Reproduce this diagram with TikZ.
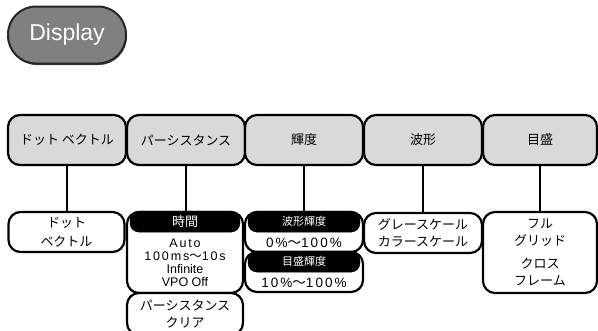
\documentclass[tikz,border=0pt]{standalone}
\usepackage{fontspec}
\setmainfont{Liberation Sans}
\newfontfamily\jp{Noto Sans CJK JP}
\newfontfamily\spaced[LetterSpace=15]{Liberation Sans}
\usepackage{tikz}
\usetikzlibrary{positioning,calc,shadows}

\begin{document}
\begin{tikzpicture}[x=1pt,y=-1pt,
  dispbtn/.style={draw=black!85,line width=2pt,fill=black!50,rounded corners=28pt,
    minimum width=118pt,minimum height=57pt,text=white,font=\fontsize{23}{23}\selectfont,
    drop shadow={shadow xshift=0.8pt,shadow yshift=-1.5pt,fill=black!70,opacity=1}},
  topbox/.style={draw,line width=2.2pt,rounded corners=12pt,fill=black!15,
    minimum width=118pt,minimum height=50pt,font=\jp\fontsize{13}{15}\selectfont},
  botbox/.style={draw,line width=2.2pt,rounded corners=12pt,fill=white,
    minimum width=116pt,minimum height=40pt,align=center,font=\jp\fontsize{13}{17}\selectfont},
  hdr/.style={draw,fill=black,rounded corners=9pt,text=white,inner sep=0pt,
    minimum height=21pt,font=\jp\fontsize{11}{11}\selectfont},
  body/.style={align=center,inner sep=1pt,font=\fontsize{12.5}{13}\selectfont},
  link/.style={line width=2.2pt}]
\useasboundingbox (0,0) rectangle (598,330);
\clip (0,0) rectangle (598,330);
\node[dispbtn] (disp) at (67,35) {Display};
% top row
\node[topbox] (dot) at (67,140) {ドット ベクトル};
\node[topbox] (pers) at (186,140) {パーシスタンス};
\node[topbox] (bri) at (304,140) {輝度};
\node[topbox] (wave) at (423,140) {波形};
\node[topbox,minimum width=114pt] (grat) at (540,140) {目盛};
% settings
\node[botbox,font=\jp\fontsize{13}{19}\selectfont] (dotv) at (66.5,232) {ドット\\ベクトル};
\node[botbox,minimum height=81pt] (time) at (185,252.5) {};
\node[botbox,minimum height=42pt] (persclr) at (185,314) {パーシスタンス\\クリア};
\node[botbox,minimum width=118pt] (wbri) at (304,232) {};
\node[botbox,minimum width=118pt] (gbri) at (304,272) {};
\node[botbox,minimum width=118pt,align=left] (scale) at (423,233) {グレースケール\\カラースケール};
\node[botbox,minimum width=114pt,minimum height=81pt] (grid) at (540,252.5) {フル\\グリッド\\[6pt]クロス\\フレーム};
\node[hdr,minimum width=110pt,font=\jp\fontsize{13}{13}\selectfont,below=0pt of time.north] (timehd) {時間};
\node[body] (timetx) at ($(timehd.south)!0.5!(time.south)$) {\spaced Auto\\\spaced 100ms{\jp ～}10s\\Infinite\\VPO Off};
\node[hdr,minimum width=112pt,below=0pt of wbri.north] (wbrihd) {波形輝度};
\node[body,font=\spaced\fontsize{13.5}{13.5}\selectfont] (wbritx) at ($(wbrihd.south)!0.5!(wbri.south)$) {0\%{\jp ～}100\%};
\node[hdr,minimum width=112pt,below=0pt of gbri.north] (gbrihd) {目盛輝度};
\node[body,font=\spaced\fontsize{13.5}{13.5}\selectfont] (gbritx) at ($(gbrihd.south)!0.5!(gbri.south)$) {10\%{\jp ～}100\%};
\foreach \a/\b in {dot/dotv,pers/time,bri/wbri,wave/scale,grat/grid}
  \draw[link] (\a.south) -- (\a.south |- \b.north);
\end{tikzpicture}
\end{document}
